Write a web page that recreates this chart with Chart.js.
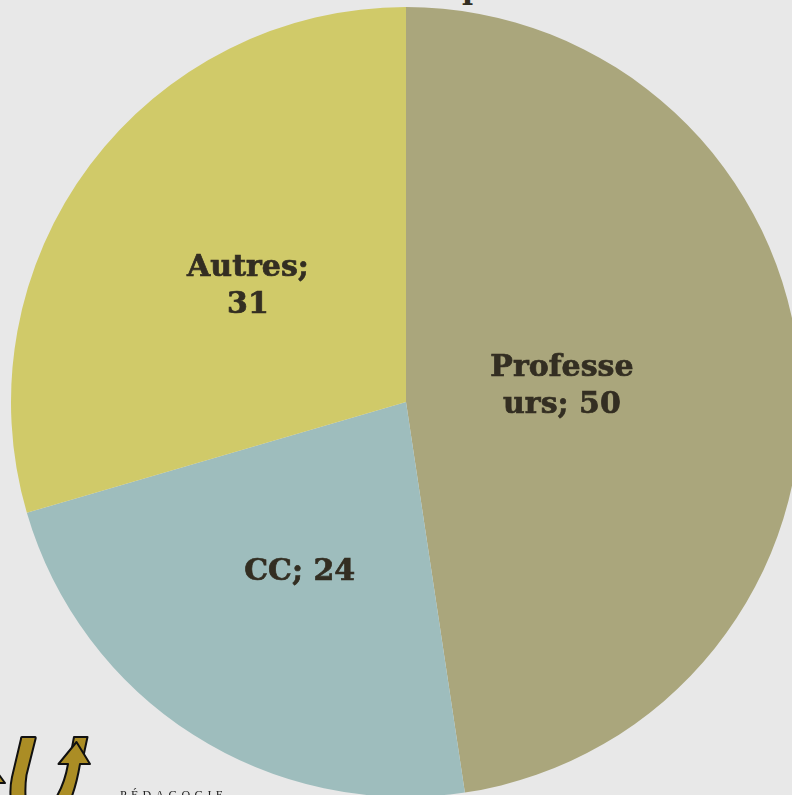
<!DOCTYPE html>
<html>
<head>
<meta charset="utf-8">
<script src="https://cdn.jsdelivr.net/npm/chart.js@4"></script>
<style>
  html, body { margin: 0; padding: 0; background: #e8e8e8; }
  body { width: 792px; height: 795px; overflow: hidden; position: relative; }
  canvas { position: absolute; left: 0; top: 0; }
  #logo { position: absolute; left: 0; top: 730px; }
  #brand { position: absolute; left: 120px; top: 788px; font: 12px "Liberation Serif", serif; letter-spacing: 4.3px; color: #222; white-space: nowrap; }
  #title { position: absolute; left: 462px; top: -29px; font: bold 30px "DejaVu Serif", serif; color: #332e22; }
</style>
</head>
<body>
<div id="title">p</div>
<canvas id="pieChart" width="812" height="804"></canvas>
<svg id="logo" width="100" height="65" viewBox="0 0 100 65">
  <g fill="#ab8d25" stroke="#111" stroke-width="2" stroke-linejoin="round">
    <path d="M22 7 L35 7 Q36 7 35.5 9 L26.5 45 Q25 55 25.5 66 L10.5 66 Q10 56 12 47 L21 9 Q21 7 22 7 Z"/>
    <path d="M74 7 L87.5 7 L83 28 L70 28 Z"/>
    <path d="M76.5 12 L90 34 L80 34 Q77 52 72 66 L57 66 Q65 52 68 34 L58.5 34 Z"/>
    <path d="M-6 38 L5 53 L-6 53 Z"/>
  </g>
</svg>
<div id="brand">PÉDAGOGIE</div>
<script>
const categories = ["Professeurs", "CC", "Autres"];
const values = [50, 24, 31];
const sliceColors = ["#aaa67c", "#9ebdbd", "#d0ca69"];
const labelLines = [["Professe", "urs; 50"], ["CC; 24"], ["Autres;", "31"]];
// labels were hand placed in the original, nudge from the arc center
const labelNudge = [[-41, -1], [0, 4], [0, 3]];

const sliceLabels = {
  id: "sliceLabels",
  afterDatasetsDraw(chart) {
    const { ctx } = chart;
    ctx.save();
    ctx.font = "bold 30px 'DejaVu Serif', serif";
    ctx.fillStyle = "#332e22";
    ctx.strokeStyle = "#332e22";
    ctx.lineWidth = 0.7;
    ctx.textAlign = "center";
    ctx.textBaseline = "middle";
    chart.getDatasetMeta(0).data.forEach((arc, i) => {
      const pos = arc.tooltipPosition();
      const lines = labelLines[i];
      lines.forEach((line, n) => {
        const x = pos.x + labelNudge[i][0];
        const y = pos.y + labelNudge[i][1] + (n - (lines.length - 1) / 2) * 37;
        ctx.fillText(line, x, y);
        ctx.strokeText(line, x, y);
      });
    });
    ctx.restore();
  }
};

new Chart(document.getElementById("pieChart").getContext("2d"), {
  type: "pie",
  data: {
    labels: categories,
    datasets: [{
      data: values,
      backgroundColor: sliceColors,
      borderWidth: 0
    }]
  },
  options: {
    responsive: false,
    animation: false,
    layout: { padding: 7 },
    plugins: {
      legend: { display: false },
      tooltip: { enabled: false }
    }
  },
  plugins: [sliceLabels]
});
</script>
</body>
</html>
